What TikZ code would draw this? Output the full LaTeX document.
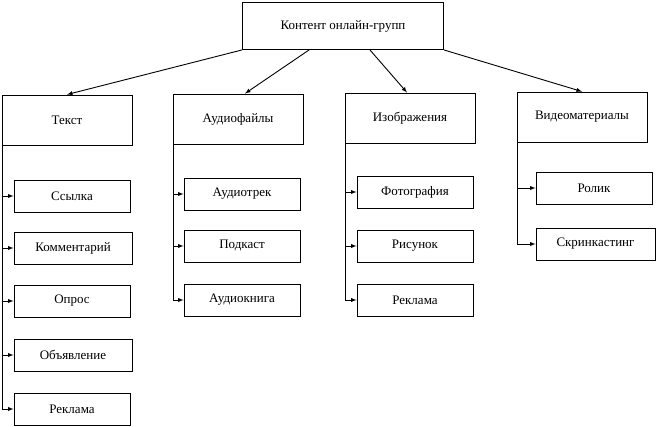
\documentclass[tikz,border=0pt]{standalone}
\usepackage{fontspec}
\setmainfont{Liberation Serif}
\usetikzlibrary{arrows}
\begin{document}
\begin{tikzpicture}[x=1pt,y=-1pt,every node/.style={block},
        block/.style={draw,rectangle,inner sep=0pt,font=\fontsize{13}{15}\selectfont},
        cat/.style={block,minimum width=130pt,minimum height=50pt},
        leaf/.style={block,minimum width=116pt,minimum height=32pt},
        every path/.style={line width=0.9pt},
        >={latex[scale=1.4]}]
   \useasboundingbox (0,0) rectangle (657,427);
   \node[block,minimum width=201pt,minimum height=47pt] (R) at (343,26) {Контент онлайн-групп};
   \node[cat] (T) at (67,120) {Текст};
   \node[cat] (A) at (238,119) {Аудиофайлы};
   \node[cat] (I) at (410,118) {Изображения};
   \node[cat] (V) at (582,117) {Видеоматериалы};

   \node[leaf] (T1) at (72,196) {Ссылка};
   \node[leaf,minimum width=118pt] (T2) at (73,248) {Комментарий};
   \node[leaf] (T3) at (72,301) {Опрос};
   \node[leaf,minimum width=118pt] (T4) at (73,355) {Объявление};
   \node[leaf] (T5) at (72,409) {Реклама};

   \node[leaf] (A1) at (242,194) {Аудиотрек};
   \node[leaf] (A2) at (242,246) {Подкаст};
   \node[leaf] (A3) at (242,300) {Аудиокнига};

   \node[leaf] (I1) at (415,192) {Фотография};
   \node[leaf] (I2) at (415,246) {Рисунок};
   \node[leaf] (I3) at (415,300) {Реклама};

   \node[leaf] (V1) at (594,188) {Ролик};
   \node[leaf,minimum width=119pt] (V2) at (595.5,244) {Скринкастинг};

   \draw[->] (R.south west) -- (T.north);
   \draw[->] ([xshift=67pt]R.south west) -- ([xshift=7pt]A.north);
   \draw[->] ([xshift=-74pt]R.south east) -- ([xshift=-3pt]I.north);
   \draw[->] (R.south east) -- (V.north);

   \foreach \p/\c in {T/T1,T/T2,T/T3,T/T4,T/T5,A/A1,A/A2,A/A3,I/I1,I/I2,I/I3,V/V1,V/V2}
      \draw[->] ([xshift=1pt]\p.south west) |- (\c.west);
\end{tikzpicture}
\end{document}
